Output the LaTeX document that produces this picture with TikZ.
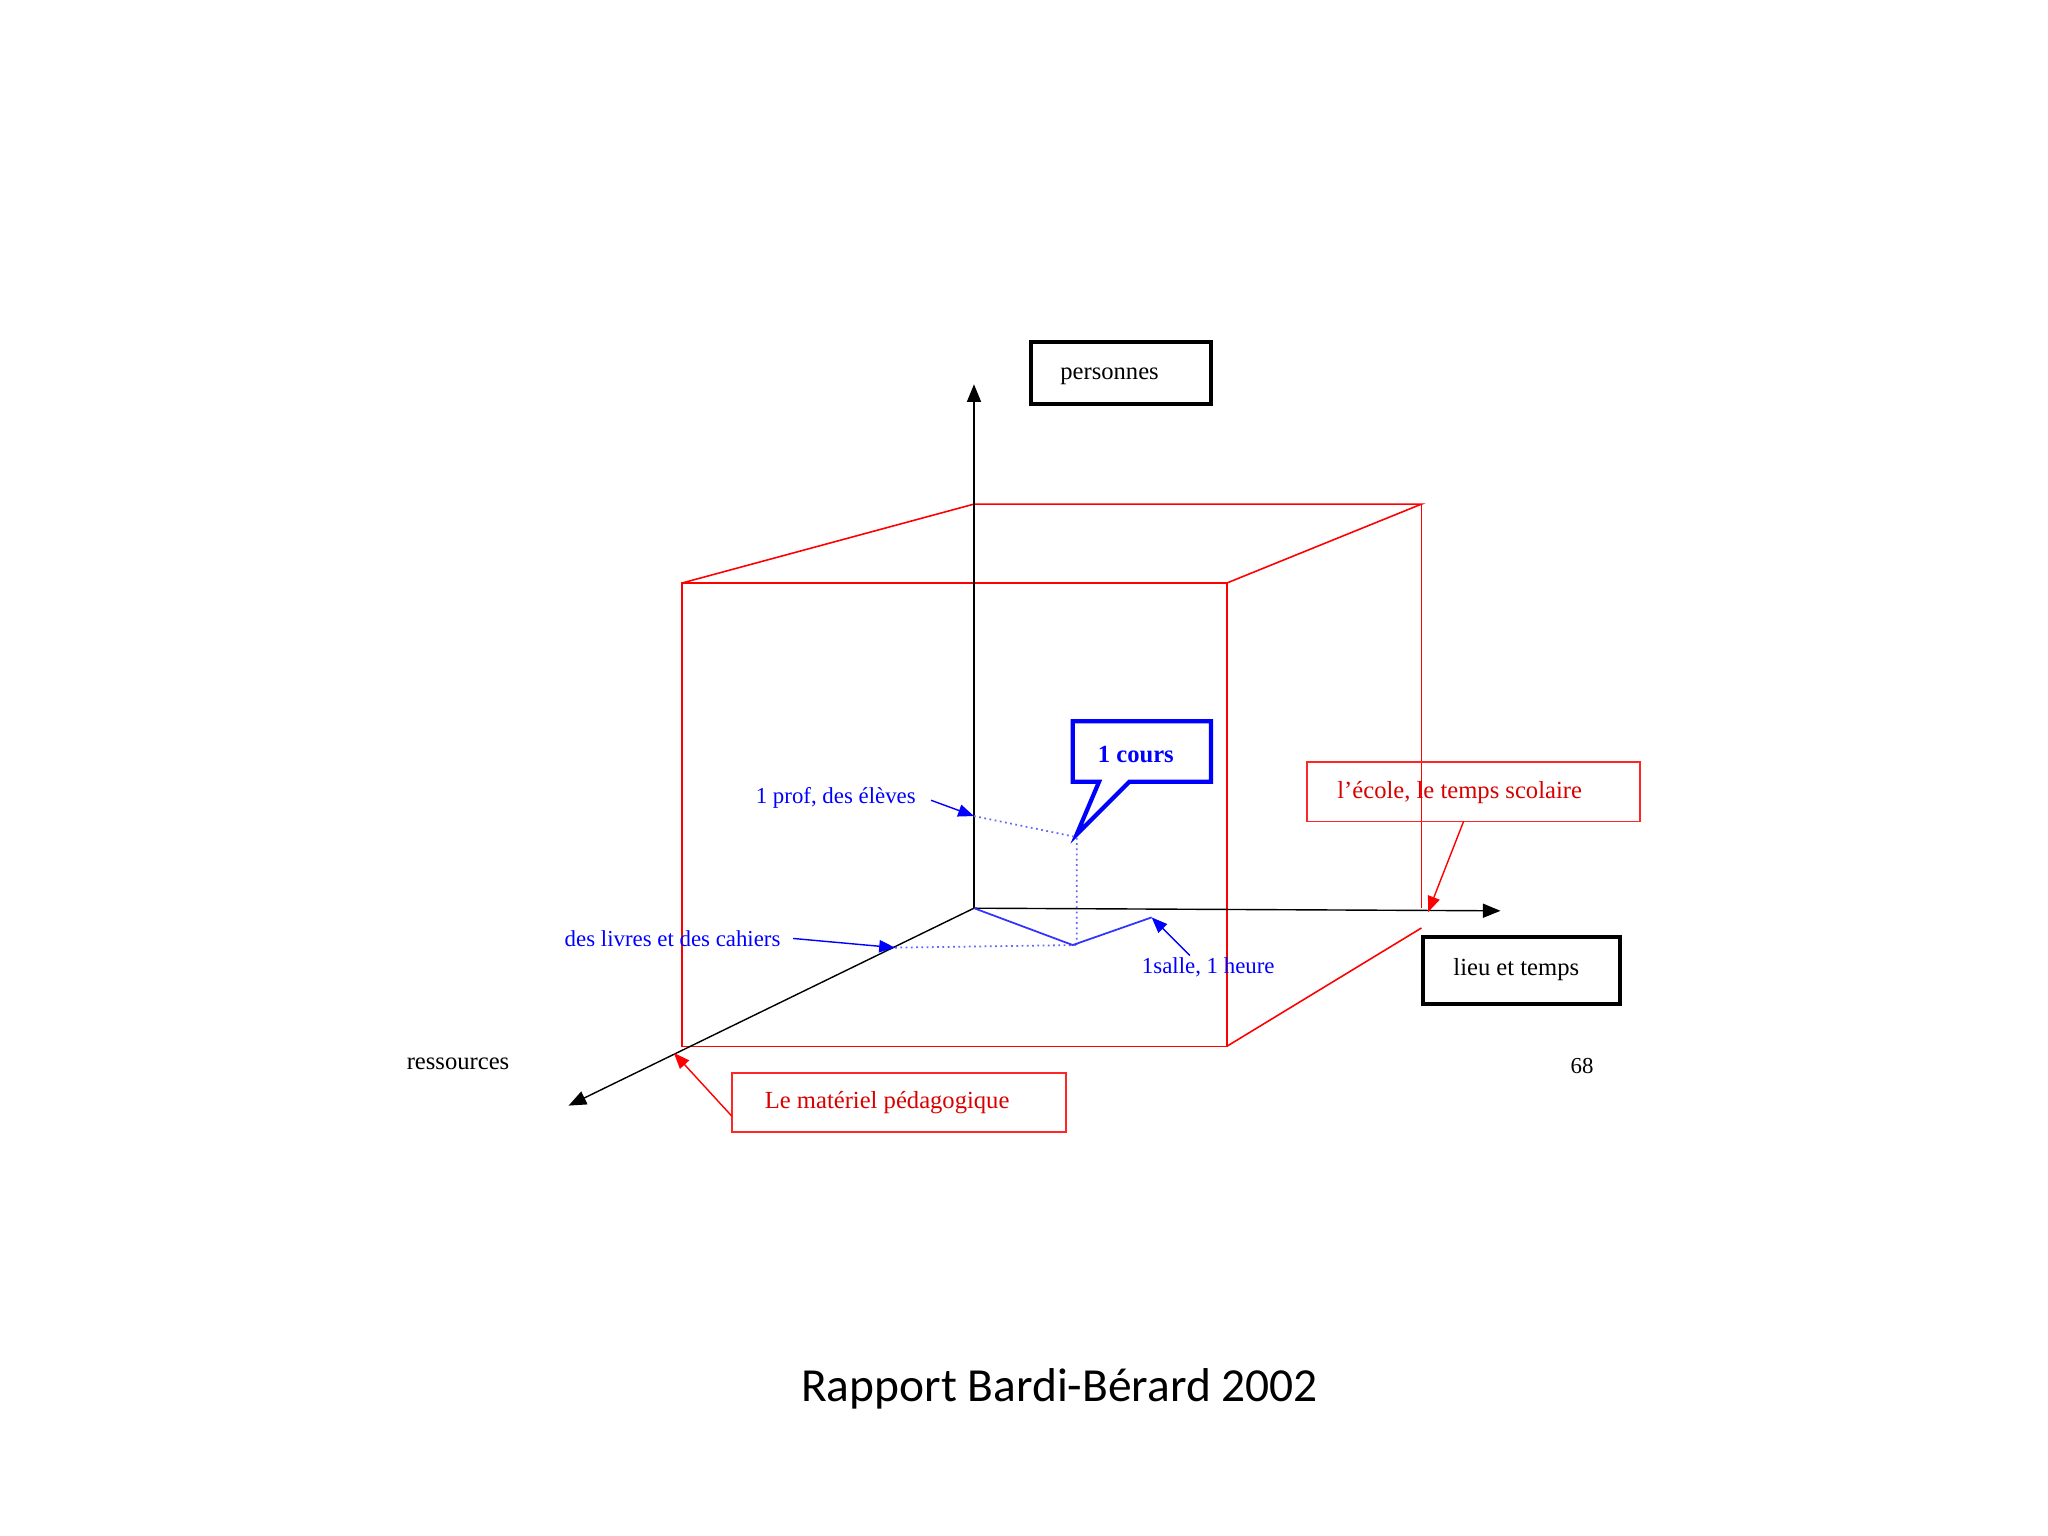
\documentclass[tikz,border=0pt]{standalone}
\usepackage{fontspec}
\setmainfont{Liberation Serif}
\newfontfamily\capfont{Carlito}
\usetikzlibrary{arrows.meta}
\begin{document}
\begin{tikzpicture}[x=0.02632cm,y=-0.02632cm,
  ax/.style={black,line width=0.8pt,-{Triangle[length=10pt,width=8pt]}},
  cube/.style={red,line width=0.9pt},
  tfont/.style={font=\fontsize{14}{16}\selectfont},
  blab/.style={text=blue,font=\fontsize{13}{15}\selectfont,inner sep=1pt},
  barr/.style={blue,line width=0.8pt,-{Triangle[length=9pt,width=7pt]}},
  rarr/.style={red,line width=0.8pt,-{Triangle[length=9pt,width=7pt]}},
  bdot/.style={blue!60,dotted,line width=1pt}]
\useasboundingbox (0,0) rectangle (1556,1167);
\fill[white] (0,0) rectangle (1556,1167);
\coordinate (O) at (740,690);
\coordinate (Up) at (740,292);
\coordinate (Rt) at (1140,692);
\coordinate (Rs) at (432,840);
% cube
\draw[cube] (518,443) rectangle (932,795);
\draw[cube] (518,443) -- (740,383) -- (1080,383) -- (932,443);
\draw[cube] (1080,383) -- (1080,690);
\draw[cube] (932,795) -- (1080,705);
% axes
\draw[ax] (O) -- (Up);
\draw[ax] (O) -- (Rt);
\draw[ax] (O) -- (Rs);
% boxes
\draw[black,line width=2.2pt] (783,260) rectangle (920,307);
\node[tfont] (perst) at (843,286) {personnes};
\draw[black,line width=2.2pt] (1081,712) rectangle (1231,763);
\node[tfont] (lieu) at (1152,737) {lieu et temps};
\draw[red!85,line width=0.9pt] (993,579) rectangle (1246,624);
\node[tfont,text=red!85!black] (ecole) at (1109,602) {l'école, le temps scolaire};
\coordinate (ecA) at (1112,624);
\coordinate (ecB) at (1085,693);
\draw[rarr] (ecA) -- (ecB);
\draw[red!85,line width=0.9pt] (556,815) rectangle (810,860);
\node[tfont,text=red!85!black] (mat) at (674,838) {Le matériel pédagogique};
\coordinate (mA) at (556,848);
\coordinate (mB) at (512,800);
\draw[rarr] (mA) -- (mB);
% 1 cours
\draw[blue,line width=2.4pt,line join=miter,fill=white] (815,548) -- (920,548) -- (920,594) -- (858,594) -- (818,634) -- (835,594) -- (815,594) -- cycle;
\node[text=blue,font=\bfseries\fontsize{14}{16}\selectfont] (cours) at (863,573) {1 cours};
% blue lines
\coordinate (P) at (740,620);
\coordinate (C) at (818,636);
\coordinate (D) at (818,718);
\coordinate (L) at (680,720);
\coordinate (S) at (875,697);
\draw[bdot] (P) -- (C) -- (D);
\draw[bdot] (L) -- (D);
\draw[blue!80,line width=1pt] (O) -- (815,718) -- (S);
\node[blab] (prof) at (635,606) {1 prof, des élèves};
\draw[barr] (prof.east)+(10,2) -- (P);
\node[blab] (livres) at (511,713) {des livres et des cahiers};
\draw[barr] (livres.east)+(8,0) -- (L);
\node[blab] (salle) at (918,735) {1salle, 1 heure};
\draw[barr] (904,726) -- (S);
% other texts
\node[tfont] (res) at (348,808) {ressources};
\node[font=\fontsize{13}{15}\selectfont] (n68) at (1202,810) {68};
\node[font=\capfont\fontsize{27}{32}\selectfont] (cap) at (805,1055) {Rapport Bardi-Bérard 2002};
\end{tikzpicture}
\end{document}
